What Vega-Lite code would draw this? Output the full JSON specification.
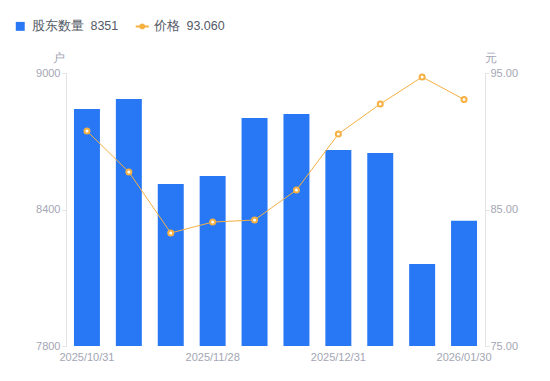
{
  "$schema": "https://vega.github.io/schema/vega-lite/v6.json",
  "autosize": "none",
  "width": 419,
  "height": 273,
  "padding": {"left": 66, "top": 73, "right": 65, "bottom": 35},
  "background": "white",
  "config": {
    "font": "Liberation Sans",
    "view": {"stroke": null},
    "axis": {"labelColor": "#a3a6b4", "labelFontSize": 11, "domainColor": "#e3e3e3", "tickColor": "#e3e3e3", "grid": false, "titleColor": "#a3a6b4", "titleFontWeight": "normal", "titleFontSize": 12}
  },
  "data": {
    "values": [
      {"date": "2025/10/31", "holders": 8842, "price": 90.75},
      {"date": "2025/11/10", "holders": 8886, "price": 87.75},
      {"date": "2025/11/20", "holders": 8512, "price": 83.28},
      {"date": "2025/11/28", "holders": 8547, "price": 84.08},
      {"date": "2025/12/10", "holders": 8802, "price": 84.23},
      {"date": "2025/12/19", "holders": 8820, "price": 86.43},
      {"date": "2025/12/31", "holders": 8662, "price": 90.53},
      {"date": "2026/01/09", "holders": 8648, "price": 92.73},
      {"date": "2026/01/20", "holders": 8160, "price": 94.71},
      {"date": "2026/01/30", "holders": 8351, "price": 93.06}
    ]
  },
  "encoding": {
    "x": {
      "field": "date", "type": "ordinal", "sort": null,
      "scale": {"paddingInner": 0.38, "paddingOuter": 0.19},
      "axis": {"title": null, "labelAngle": 0, "domain": false, "ticks": false, "labelPadding": 5,
        "labelExpr": "indexof(['2025/10/31','2025/11/28','2025/12/31','2026/01/30'], datum.value) >= 0 ? datum.value : ''"}
    }
  },
  "resolve": {"scale": {"y": "independent"}},
  "layer": [
    {
      "mark": {"type": "bar", "color": "#2878f5", "clip": true},
      "encoding": {
        "y": {
          "field": "holders", "type": "quantitative",
          "scale": {"domain": [7800, 9000], "nice": false, "zero": false},
          "axis": {"values": [7800, 8400, 9000], "format": "d", "title": "户", "titleAngle": 0, "titleAnchor": "end", "titleAlign": "center", "titleBaseline": "bottom", "titleX": -8, "titleY": -9, "tickSize": 4, "labelPadding": 2}
        },
        "color": {
          "datum": "股东数量", "type": "nominal",
          "scale": {"domain": ["股东数量", "价格"], "range": ["#2878f5", "#f5b041"]},
          "legend": {
            "title": null, "orient": "none", "legendX": -52, "legendY": -53, "direction": "horizontal",
            "labelFontSize": 12.5, "labelColor": "#555a66", "symbolSize": 90, "columnPadding": 12, "labelOffset": 5,
            "labelExpr": "datum.label == '股东数量' ? '股东数量\u00a0\u00a08351' : '价格\u00a0\u00a093.060'",
            "encode": {
              "symbols": {
                "update": {
                  "shape": {"signal": "datum.label == '价格' ? 'M-1,0L-0.3,0M0.3,0L1,0M0.3,0A0.3,0.3 0 1,1 -0.3,0A0.3,0.3 0 1,1 0.3,0Z' : 'square'"},
                  "fill": {"signal": "datum.label == '价格' ? '#ffffff' : '#2878f5'"},
                  "fillOpacity": {"value": 1},
                  "stroke": {"signal": "datum.label == '价格' ? '#f5b041' : '#2878f5'"},
                  "strokeWidth": {"signal": "datum.label == '价格' ? 2 : 0"},
                  "size": {"signal": "datum.label == '价格' ? 170 : 80"}
                }
              }
            }
          }
        }
      }
    },
    {
      "layer": [
        {"mark": {"type": "line", "color": "#f5b041", "strokeWidth": 1}},
        {"mark": {"type": "point", "filled": true, "fill": "#ffffff", "stroke": "#f5b041", "strokeWidth": 2, "size": 25, "opacity": 1}}
      ],
      "encoding": {
        "y": {
          "field": "price", "type": "quantitative",
          "scale": {"domain": [75, 95], "nice": false, "zero": false},
          "axis": {"orient": "right", "values": [75, 85, 95], "format": ".2f", "title": "元", "titleAngle": 0, "titleAnchor": "end", "titleAlign": "center", "titleBaseline": "bottom", "titleX": 5, "titleY": -9, "tickSize": 4, "labelPadding": 1}
        }
      }
    }
  ]
}
